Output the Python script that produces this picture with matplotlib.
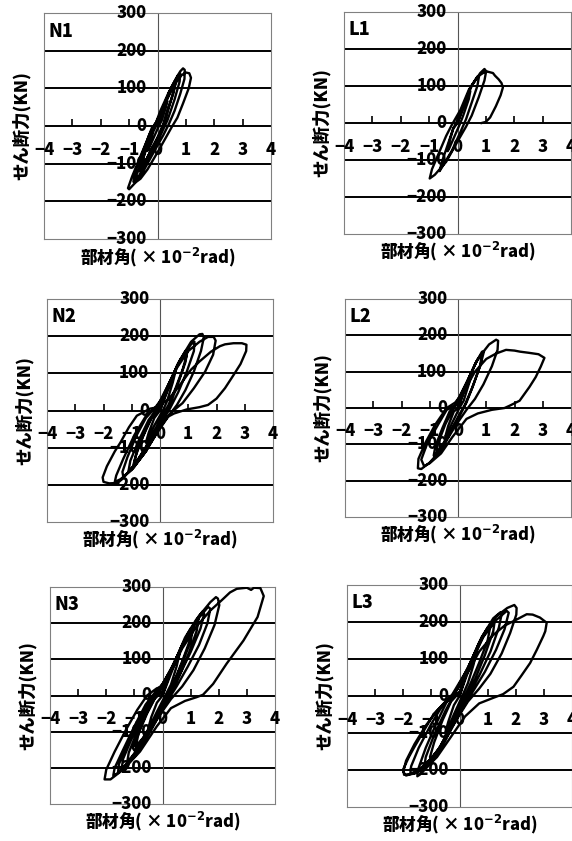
import matplotlib.pyplot as plt
from matplotlib.lines import TICKUP

plt.rcParams['font.family'] = ['Noto Sans CJK JP', 'DejaVu Sans']
plt.rcParams['font.weight'] = 'black'
plt.rcParams['mathtext.fontset'] = 'dejavusans'

# hysteresis paths: (rotation x10^-2 rad, shear kN)
n1 = [(0, 0), (0.15, 30), (0.3, 60), (0.35, 66), (0.3, 50), (0.15, 15), (0.05, 0), (-0.1, -25), (-0.3, -60), (-0.35, -66), (-0.3, -50), (-0.15, -15), (-0.05, 0),
      (0.2, 45), (0.45, 95), (0.6, 115), (0.65, 118), (0.6, 100), (0.4, 50), (0.25, 10), (0.1, -20), (-0.2, -60), (-0.5, -105), (-0.62, -120), (-0.58, -100), (-0.4, -55), (-0.2, -10), (-0.1, 0),
      (0.15, 40), (0.4, 88), (0.58, 110), (0.62, 110), (0.55, 85), (0.35, 40), (0.2, 5), (0.0, -30), (-0.3, -75), (-0.55, -112), (-0.58, -108), (-0.45, -70), (-0.25, -20), (-0.1, 0),
      (0.2, 50), (0.5, 105), (0.72, 135), (0.8, 140), (0.78, 118), (0.6, 70), (0.35, 15), (0.1, -25), (-0.3, -85), (-0.65, -132), (-0.85, -148), (-0.8, -125), (-0.55, -75), (-0.3, -25), (-0.1, 5),
      (0.1, 20), (0.35, 75), (0.6, 118), (0.8, 145), (0.9, 153), (0.96, 149), (0.95, 125), (0.8, 85), (0.6, 40), (0.4, 5), (0.2, -25), (-0.1, -65), (-0.5, -120), (-0.8, -152), (-1.0, -168), (-1.04, -165), (-0.9, -135), (-0.6, -80), (-0.35, -35), (-0.2, -5),
      (0.05, 10), (0.3, 65), (0.6, 110), (0.85, 135), (1.0, 142), (1.12, 140), (1.18, 128), (1.1, 100), (0.9, 60), (0.7, 22), (0.5, -3), (0.3, -30), (0.0, -70), (-0.35, -115), (-0.6, -140), (-0.78, -150), (-0.74, -130), (-0.5, -85), (-0.3, -40), (-0.1, 0), (0.1, 40), (0.4, 90), (0.7, 130)]

l1 = [(0, 0), (0.2, 40), (0.4, 80), (0.45, 86), (0.4, 65), (0.2, 20), (0.1, 0), (-0.1, -35), (-0.3, -70), (-0.35, -76), (-0.3, -55), (-0.15, -15), (-0.05, 0),
      (0.15, 35), (0.45, 95), (0.7, 125), (0.76, 127), (0.7, 100), (0.5, 55), (0.3, 10), (0.1, -25), (-0.2, -75), (-0.55, -120), (-0.63, -130), (-0.55, -105), (-0.35, -60), (-0.15, -15), (0, 0),
      (0.2, 45), (0.5, 100), (0.8, 135), (0.95, 146), (1.01, 140), (0.95, 115), (0.75, 70), (0.5, 20), (0.3, -10), (0.0, -50), (-0.4, -105), (-0.8, -140), (-0.98, -150), (-0.9, -125), (-0.65, -80), (-0.4, -35), (-0.2, -5),
      (0.1, 35), (0.4, 90), (0.7, 125), (1.0, 140), (1.15, 137), (1.25, 135), (1.32, 128), (1.45, 118), (1.55, 108), (1.6, 96), (1.52, 75), (1.35, 45), (1.15, 15), (1.0, 3), (0.85, 0)]

n2 = [(0, 0), (0.3, 60), (0.5, 100), (0.55, 106), (0.45, 75), (0.25, 25), (0.1, 0), (-0.2, -40), (-0.45, -80), (-0.5, -86), (-0.4, -60), (-0.2, -20), (0, 0),
      (0.3, 65), (0.6, 120), (0.9, 160), (0.98, 164), (0.9, 130), (0.65, 75), (0.4, 25), (0.2, -10), (-0.2, -60), (-0.6, -115), (-0.9, -150), (-0.96, -152), (-0.85, -120), (-0.6, -70), (-0.3, -20), (0, 5),
      (0.3, 68), (0.65, 128), (0.92, 158), (0.95, 150), (0.8, 110), (0.55, 60), (0.3, 15), (0.0, -25), (-0.4, -85), (-0.8, -135), (-0.92, -142), (-0.8, -105), (-0.5, -50), (-0.2, -5),
      (0.35, 78), (0.75, 140), (1.1, 178), (1.22, 185), (1.2, 160), (0.95, 105), (0.65, 50), (0.35, 5), (0.0, -40), (-0.5, -110), (-0.95, -155), (-1.12, -165), (-1.05, -135), (-0.75, -80), (-0.4, -25), (-0.1, 5),
      (0.3, 70), (0.7, 135), (1.1, 185), (1.4, 205), (1.5, 206), (1.55, 196), (1.45, 160), (1.2, 105), (0.9, 55), (0.6, 15), (0.3, -15), (-0.1, -60), (-0.6, -120), (-1.1, -165), (-1.3, -178), (-1.33, -165), (-1.15, -125), (-0.85, -70), (-0.5, -20), (-0.2, 5),
      (0.2, 45), (0.6, 115), (1.0, 160), (1.4, 185), (1.7, 198), (1.9, 198), (1.97, 188), (1.88, 150), (1.6, 105), (1.2, 60), (0.8, 20), (0.4, -5), (0.0, -45), (-0.5, -110), (-1.0, -160), (-1.4, -185), (-1.6, -192), (-1.55, -175), (-1.3, -130), (-0.9, -65), (-0.5, -15), (-0.2, 5),
      (0.3, 30), (0.7, 68), (1.1, 110), (1.4, 132), (1.8, 158), (2.12, 173), (2.3, 178), (2.6, 181), (2.9, 181), (3.06, 177), (3.05, 160), (2.85, 125), (2.6, 95), (2.3, 60), (2.0, 32), (1.7, 15), (1.4, 9), (0.95, 3), (0.5, -8), (0.2, -20),
      (-0.1, -45), (-0.5, -100), (-0.9, -145), (-1.3, -182), (-1.5, -195), (-1.8, -196), (-2.0, -192), (-2.03, -180), (-1.88, -150), (-1.6, -110), (-1.4, -86), (-1.1, -45), (-0.82, -14), (-0.35, 5), (0, 10)]

l2 = [(0, 0), (0.25, 55), (0.45, 95), (0.5, 99), (0.4, 70), (0.2, 20), (0.05, 0), (-0.2, -40), (-0.4, -75), (-0.45, -79), (-0.35, -50), (-0.15, -10), (0, 0),
      (0.3, 65), (0.6, 120), (0.85, 155), (0.92, 156), (0.8, 120), (0.55, 65), (0.3, 15), (0.1, -15), (-0.3, -70), (-0.7, -120), (-0.86, -131), (-0.8, -105), (-0.55, -55), (-0.3, -10), (-0.05, 10),
      (0.3, 68), (0.65, 128), (0.85, 148), (0.78, 115), (0.5, 55), (0.25, 10), (0.0, -25), (-0.35, -80), (-0.75, -125), (-0.72, -100), (-0.45, -45), (-0.15, 0),
      (0.3, 70), (0.7, 135), (1.1, 175), (1.35, 188), (1.42, 185), (1.4, 160), (1.2, 115), (0.9, 65), (0.6, 25), (0.3, -5), (-0.1, -50), (-0.6, -115), (-1.0, -150), (-1.3, -168), (-1.42, -166), (-1.4, -140), (-1.15, -95), (-0.8, -45), (-0.4, 0), (-0.1, 15),
      (0.2, 45), (0.6, 100), (1.0, 135), (1.35, 150), (1.7, 160), (2.0, 158), (2.2, 155), (2.5, 152), (2.85, 148), (3.06, 138), (2.93, 114), (2.75, 85), (2.53, 58), (2.18, 20), (1.82, 6), (1.65, 0), (1.2, -5), (0.7, -15), (0.3, -30),
      (-0.2, -80), (-0.6, -125), (-1.0, -152), (-1.2, -160), (-1.3, -142), (-1.1, -100), (-0.7, -45), (-0.4, -5), (0, 10)]

n3 = [(0, 0), (0.3, 60), (0.55, 110), (0.6, 113), (0.5, 80), (0.3, 30), (0.1, 0), (-0.2, -45), (-0.45, -85), (-0.5, -89), (-0.4, -60), (-0.2, -20), (0, 0),
      (0.3, 70), (0.7, 140), (1.0, 185), (1.1, 191), (1.0, 150), (0.7, 90), (0.4, 35), (0.1, -10), (-0.3, -70), (-0.7, -120), (-1.0, -152), (-1.05, -146), (-0.9, -110), (-0.6, -55), (-0.3, -10), (0, 10),
      (0.35, 80), (0.75, 148), (1.02, 180), (1.0, 158), (0.75, 105), (0.45, 45), (0.15, 0), (-0.25, -60), (-0.7, -118), (-0.95, -140), (-0.85, -105), (-0.55, -50), (-0.25, -5),
      (0.4, 88), (0.85, 160), (1.2, 205), (1.28, 212), (1.22, 180), (0.95, 120), (0.6, 55), (0.25, 0), (-0.2, -60), (-0.7, -130), (-1.1, -172), (-1.25, -182), (-1.2, -158), (-0.9, -100), (-0.55, -40), (-0.2, 5),
      (0.4, 85), (0.8, 160), (1.2, 210), (1.42, 232), (1.48, 226), (1.35, 185), (1.0, 120), (0.6, 55), (0.3, 10), (0, -30), (-0.5, -100), (-1.0, -160), (-1.35, -195), (-1.45, -201), (-1.4, -175), (-1.1, -120), (-0.7, -55), (-0.4, -10), (-0.1, 10),
      (0.35, 80), (0.85, 160), (1.3, 215), (1.62, 245), (1.7, 240), (1.6, 200), (1.3, 140), (0.9, 80), (0.5, 25), (0.1, -25), (-0.4, -95), (-0.95, -165), (-1.4, -205), (-1.58, -212), (-1.55, -190), (-1.25, -135), (-0.85, -70), (-0.45, -10), (-0.15, 10),
      (0.3, 70), (0.8, 155), (1.3, 220), (1.7, 258), (1.9, 272), (1.97, 268), (2.02, 250), (1.85, 195), (1.5, 130), (1.1, 70), (0.7, 25), (0.3, -10), (-0.2, -65), (-0.7, -130), (-1.2, -185), (-1.6, -215), (-1.75, -221), (-1.7, -200), (-1.4, -150), (-1.0, -85), (-0.6, -25), (-0.3, 5),
      (0.2, 50), (0.7, 130), (1.2, 190), (1.7, 235), (2.1, 263), (2.4, 285), (2.64, 295), (3.0, 298), (3.15, 292), (3.25, 298), (3.48, 297), (3.6, 275), (3.38, 217), (2.88, 152), (2.28, 88), (1.8, 32), (1.44, 2), (1.2, -5), (0.8, -15), (0.3, -35),
      (-0.2, -85), (-0.8, -155), (-1.4, -205), (-1.85, -232), (-2.06, -232), (-2.0, -205), (-1.7, -155), (-1.3, -95), (-0.9, -40), (-0.55, 0), (-0.2, 20), (0, 25)]

l3 = [(0, 0), (0.3, 65), (0.55, 115), (0.6, 118), (0.5, 85), (0.3, 35), (0.1, 0), (-0.2, -50), (-0.45, -95), (-0.5, -98), (-0.4, -70), (-0.2, -25), (0, 0),
      (0.3, 75), (0.7, 145), (1.0, 185), (1.1, 190), (1.0, 150), (0.7, 90), (0.4, 35), (0.1, -15), (-0.3, -80), (-0.7, -140), (-1.0, -170), (-1.05, -165), (-0.9, -125), (-0.6, -65), (-0.3, -15), (0, 10),
      (0.35, 82), (0.8, 155), (1.15, 198), (1.25, 202), (1.2, 175), (0.9, 110), (0.55, 45), (0.2, -5), (-0.25, -75), (-0.75, -145), (-1.15, -185), (-1.25, -192), (-1.2, -165), (-0.9, -105), (-0.5, -40), (-0.15, 10),
      (0.35, 85), (0.8, 160), (1.2, 210), (1.45, 226), (1.5, 222), (1.4, 185), (1.1, 120), (0.7, 55), (0.35, 5), (0, -40), (-0.5, -120), (-1.0, -180), (-1.4, -212), (-1.5, -217), (-1.48, -200), (-1.2, -140), (-0.8, -70), (-0.45, -15), (-0.1, 15),
      (0.35, 80), (0.85, 160), (1.3, 205), (1.68, 230), (1.75, 225), (1.6, 180), (1.3, 125), (0.9, 65), (0.5, 15), (0.1, -35), (-0.4, -105), (-0.95, -165), (-1.45, -200), (-1.75, -210), (-1.72, -190), (-1.45, -140), (-1.0, -75), (-0.6, -25), (-0.25, 5),
      (0.3, 75), (0.8, 160), (1.3, 215), (1.7, 238), (1.95, 246), (2.03, 238), (2.02, 220), (1.8, 170), (1.5, 115), (1.1, 60), (0.7, 20), (0.3, -15), (-0.2, -75), (-0.7, -140), (-1.2, -185), (-1.6, -208), (-1.9, -215), (-2.0, -205), (-1.9, -175), (-1.6, -130), (-1.2, -80), (-0.8, -40), (-0.5, -15), (-0.2, 5),
      (0.2, 50), (0.7, 120), (1.2, 165), (1.6, 190), (2.04, 207), (2.39, 221), (2.6, 220), (2.86, 212), (3.1, 198), (3.05, 175), (2.98, 162), (2.75, 125), (2.51, 89), (2.2, 55), (1.92, 25), (1.55, 5), (1.2, -5), (0.7, -20), (0.2, -55),
      (-0.3, -110), (-0.8, -165), (-1.2, -195), (-1.6, -210), (-1.97, -213), (-2.0, -198), (-1.8, -165), (-1.62, -140), (-1.2, -85), (-0.91, -48), (-0.55, -21), (-0.2, 0), (0, 10)]

x_ticks = [-4, -3, -2, -1, 0, 1, 2, 3, 4]
x_tick_labels = ['−4', '−3', '−2', '−1', '0', '1', '2', '3', '4']
y_ticks = [300, 200, 100, 0, -100, -200, -300]
y_tick_labels = ['300', '200', '100', '0', '−100', '−200', '−300']
grid_y = [200, 100, -100, -200]

ylabel = 'せん断力(KN)'
xlabel = r'部材角( × 10$^{\mathbf{-2}}$rad)'

# name, data, box in pixels (left, top, width, height)
panels = [
    ('N1', n1, (44, 13, 227, 226)),
    ('L1', l1, (344, 12, 227, 222)),
    ('N2', n2, (47, 299, 226, 223)),
    ('L2', l2, (345, 299, 226, 218)),
    ('N3', n3, (50, 587, 225, 217)),
    ('L3', l3, (347, 585, 225, 222)),
]

W, H = 572, 841
fig = plt.figure(figsize=(W / 100, H / 100), dpi=100)

for name, pts, (l, t, w, h) in panels:
    ax = fig.add_axes([l / W, 1 - (t + h) / H, w / W, h / H])
    ax.set_xlim(-4, 4)
    ax.set_ylim(-300, 300)
    ax.set_xticks([])
    ax.set_yticks([])
    for s in ax.spines.values():
        s.set_color('#808080')
        s.set_linewidth(0.8)

    for g in grid_y:
        ax.axhline(g, color='black', lw=1.4, zorder=1)
    ax.axhline(0, color='black', lw=1.4, zorder=1)
    ax.axvline(0, color='#555555', lw=0.8, zorder=1)
    ax.plot(x_ticks[1:-1], [0] * 7, ls='none', marker=TICKUP, ms=5, mew=1.2, color='black', zorder=2)

    for xv, lab in zip(x_ticks, x_tick_labels):
        ax.text(xv, -64, lab, ha='center', va='center', fontsize=12, clip_on=False, zorder=3)
    for yv, lab in zip(y_ticks, y_tick_labels):
        ax.text(-0.38, yv, lab, ha='right', va='center', fontsize=12, clip_on=False, zorder=3)

    xs = [p[0] for p in pts]
    ys = [p[1] for p in pts]
    ax.plot(xs, ys, color='black', lw=1.7, zorder=4, solid_joinstyle='round')

    ax.text(0.02, 0.92, name, transform=ax.transAxes, ha='left', va='center', fontsize=13)
    ax.text(0.5, -0.08, xlabel, transform=ax.transAxes, ha='center', va='center', fontsize=12)
    ax.text(-0.1, 0.5, ylabel, transform=ax.transAxes, ha='center', va='center', rotation=90, fontsize=12.5)

fig.savefig('out.png', dpi=100)
